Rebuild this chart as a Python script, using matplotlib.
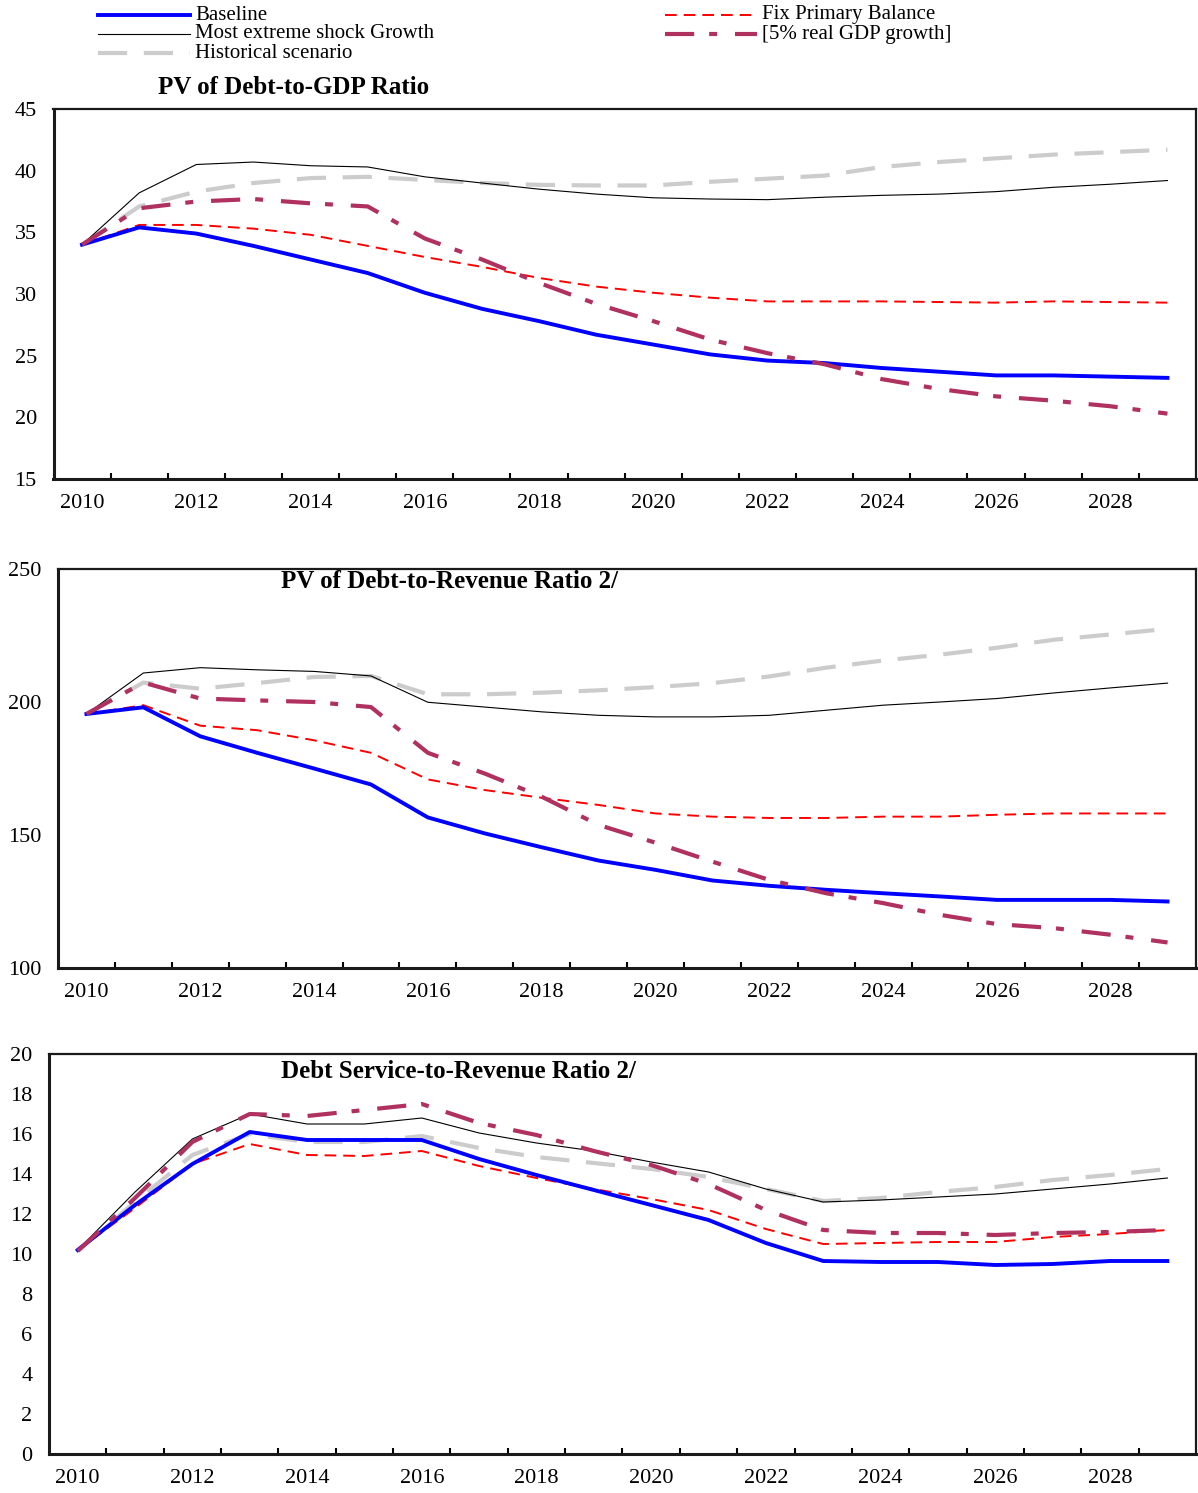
import matplotlib
matplotlib.use("Agg")
import matplotlib.pyplot as plt
from matplotlib.lines import Line2D

plt.rcParams['font.family'] = ['Liberation Serif', 'DejaVu Serif']

years = list(range(2010, 2030))
year_labels = [str(y) for y in range(2010, 2030, 2)]

# ---- Panel 1: PV of Debt-to-GDP Ratio ----
baseline_gdp = [34.0, 35.4, 34.9, 33.9, 32.8, 31.7, 30.1, 28.8, 27.8, 26.7,
                25.9, 25.1, 24.6, 24.4, 24.0, 23.7, 23.4, 23.4, 23.3, 23.2]
fixpb_gdp = [34.0, 35.6, 35.6, 35.3, 34.8, 33.9, 33.0, 32.2, 31.3, 30.6,
             30.1, 29.7, 29.4, 29.4, 29.4, 29.35, 29.3, 29.4, 29.35, 29.3]
extreme_gdp = [34.0, 38.2, 40.5, 40.7, 40.4, 40.3, 39.5, 39.0, 38.5, 38.1,
               37.8, 37.7, 37.65, 37.85, 38.0, 38.1, 38.3, 38.65, 38.9, 39.2]
hist_gdp = [34.0, 37.1, 38.3, 39.0, 39.4, 39.5, 39.25, 39.0, 38.85, 38.8,
            38.8, 39.1, 39.35, 39.6, 40.3, 40.7, 41.0, 41.3, 41.5, 41.7]
growth_gdp = [34.0, 36.95, 37.5, 37.7, 37.35, 37.1, 34.5, 32.8, 30.9, 29.2,
              27.8, 26.3, 25.2, 24.3, 23.1, 22.3, 21.7, 21.35, 20.9, 20.3]

# ---- Panel 2: PV of Debt-to-Revenue Ratio ----
baseline_rev = [195.5, 198.0, 187.1, 180.9, 175.0, 169.0, 156.6, 150.6, 145.4, 140.4,
                136.9, 132.9, 130.9, 129.4, 128.1, 126.9, 125.6, 125.6, 125.6, 125.0]
fixpb_rev = [195.5, 198.8, 191.1, 189.4, 185.6, 180.9, 170.9, 166.9, 164.0, 161.3,
             158.1, 156.9, 156.4, 156.4, 156.9, 156.9, 157.6, 158.1, 158.1, 158.1]
extreme_rev = [195.5, 210.9, 212.9, 212.1, 211.5, 209.8, 199.9, 198.1, 196.3, 195.0,
               194.4, 194.4, 195.0, 196.9, 198.8, 200.0, 201.3, 203.4, 205.3, 207.1]
hist_rev = [195.5, 207.3, 205.0, 207.1, 209.4, 209.8, 202.9, 202.9, 203.5, 204.4,
            205.6, 207.1, 209.6, 212.9, 215.6, 217.8, 220.4, 223.4, 225.4, 227.5]
growth_rev = [195.5, 207.3, 201.3, 200.6, 200.0, 198.1, 180.9, 173.1, 164.4, 153.8,
              147.1, 140.0, 133.1, 128.1, 124.4, 120.0, 116.5, 115.0, 112.5, 109.6]

# ---- Panel 3: Debt Service-to-Revenue Ratio ----
baseline_ds = [10.2, 12.45, 14.5, 16.1, 15.7, 15.7, 15.7, 14.75, 13.95, 13.2,
               12.45, 11.7, 10.55, 9.65, 9.6, 9.6, 9.45, 9.5, 9.65, 9.65]
fixpb_ds = [10.2, 12.3, 14.5, 15.5, 14.95, 14.9, 15.15, 14.4, 13.8, 13.25,
            12.75, 12.2, 11.25, 10.5, 10.55, 10.6, 10.6, 10.85, 11.0, 11.2]
extreme_ds = [10.2, 13.1, 15.75, 17.0, 16.5, 16.5, 16.8, 16.05, 15.55, 15.15,
              14.6, 14.1, 13.25, 12.6, 12.7, 12.85, 13.0, 13.25, 13.5, 13.8]
hist_ds = [10.15, 12.6, 14.95, 16.0, 15.6, 15.6, 15.9, 15.3, 14.85, 14.55,
           14.25, 13.85, 13.25, 12.65, 12.8, 13.1, 13.35, 13.7, 13.95, 14.25]
growth_ds = [10.15, 12.8, 15.6, 17.0, 16.9, 17.2, 17.5, 16.55, 15.95, 15.15,
             14.45, 13.5, 12.2, 11.2, 11.05, 11.05, 10.95, 11.05, 11.1, 11.2]

series_names = ["Baseline", "Fix Primary Balance", "Most extreme shock Growth",
                "[5% real GDP growth]", "Historical scenario"]

styles = {
    "Baseline": dict(color="#0000FF", lw=2.8, ls="-"),
    "Fix Primary Balance": dict(color="#FF0000", lw=1.4, ls=(0, (6.0, 3.6))),
    "Most extreme shock Growth": dict(color="#000000", lw=0.8, ls="-"),
    "[5% real GDP growth]": dict(color="#B03060", lw=3.0, ls=(0, (7.0, 3.6, 1.9, 4.3))),
    "Historical scenario": dict(color="#CCCCCC", lw=3.0, ls=(0, (7.0, 4.0))),
}
draw_order = ["Historical scenario", "Most extreme shock Growth", "Fix Primary Balance",
              "Baseline", "[5% real GDP growth]"]

panels = [
    dict(data={"Baseline": baseline_gdp, "Fix Primary Balance": fixpb_gdp,
               "Most extreme shock Growth": extreme_gdp, "[5% real GDP growth]": growth_gdp,
               "Historical scenario": hist_gdp},
         ylim=(15, 45), yticks=list(range(15, 46, 5)),
         rect=(53.5, 109, 1196, 479),
         title="PV of Debt-to-GDP Ratio", title_xy=(158, 88)),
    dict(data={"Baseline": baseline_rev, "Fix Primary Balance": fixpb_rev,
               "Most extreme shock Growth": extreme_rev, "[5% real GDP growth]": growth_rev,
               "Historical scenario": hist_rev},
         ylim=(100, 250), yticks=[100, 150, 200, 250],
         rect=(58, 569, 1196, 968),
         title="PV of Debt-to-Revenue Ratio 2/", title_xy=(281, 582)),
    dict(data={"Baseline": baseline_ds, "Fix Primary Balance": fixpb_ds,
               "Most extreme shock Growth": extreme_ds, "[5% real GDP growth]": growth_ds,
               "Historical scenario": hist_ds},
         ylim=(0, 20), yticks=list(range(0, 21, 2)),
         rect=(49, 1054, 1196, 1454),
         title="Debt Service-to-Revenue Ratio 2/", title_xy=(281, 1071)),
]

W, H = 1198, 1493
fig = plt.figure(figsize=(W / 100, H / 100), dpi=100)

for p in panels:
    x0, y0, x1, y1 = p["rect"]
    ax = fig.add_axes([x0 / W, 1 - y1 / H, (x1 - x0) / W, (y1 - y0) / H])
    for name in draw_order:
        st = styles[name]
        ax.plot(years, p["data"][name], color=st["color"], lw=st["lw"],
                linestyle=st["ls"], solid_joinstyle="round", zorder=3)
    ax.set_xlim(2009.5, 2029.5)
    ax.set_ylim(*p["ylim"])
    ax.set_yticks(p["yticks"])
    ax.set_yticklabels([str(v) for v in p["yticks"]])
    ax.set_xticks(list(range(2010, 2030, 2)))
    ax.set_xticklabels(year_labels)
    ax.set_xticks([y + 0.5 for y in range(2010, 2029)], minor=True)
    ax.tick_params(axis="x", which="major", length=0, pad=10.5, labelsize=16)
    ax.tick_params(axis="x", which="minor", direction="in", length=4, width=1.5,
                   color="black")
    ax.tick_params(axis="y", which="both", length=0, pad=12, labelsize=16)
    for side, sp in ax.spines.items():
        sp.set_color("#1a1a1a")
        sp.set_linewidth(2.2 if side in ("left", "bottom") else 1.6)
    tx, ty = p["title_xy"]
    fig.text(tx / W, 1 - ty / H, p["title"], fontsize=18, fontweight="bold",
             ha="left", va="center")

# legend (manual layout, two columns)
legend_entries = [
    ("Baseline", 98, 15), ("Most extreme shock Growth", 98, 34),
    ("Historical scenario", 98, 53),
    ("Fix Primary Balance", 665, 15), ("[5% real GDP growth]", 665, 34),
]
for name, lx, ly in legend_entries:
    st = styles[name]
    fig.add_artist(Line2D([lx / W, (lx + 92) / W], [1 - ly / H, 1 - ly / H],
                          transform=fig.transFigure, color=st["color"], lw=st["lw"],
                          linestyle=st["ls"]))
    fig.text((lx + 97) / W, 1 - ly / H, name, fontsize=15, ha="left", va="center")

fig.savefig("out.png", dpi=100)
